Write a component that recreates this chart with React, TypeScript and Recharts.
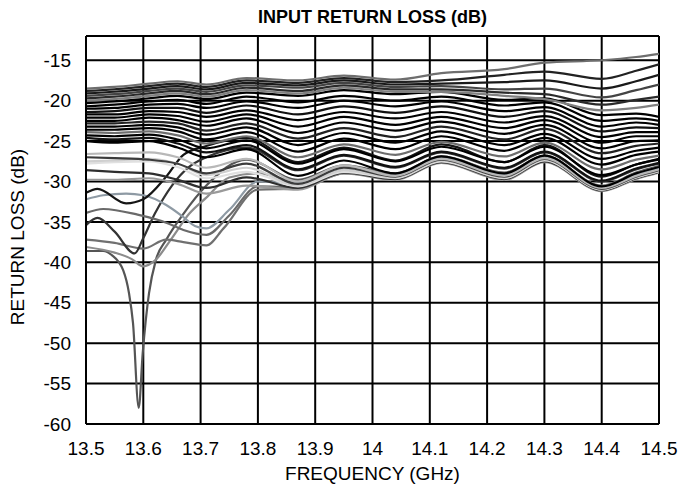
import React from "react";
import { LineChart, Line, XAxis, YAxis, CartesianGrid, ReferenceLine } from "recharts";

// Frequency ticks (GHz) and return-loss ticks (dB)
const X_TICKS = [13.5, 13.6, 13.7, 13.8, 13.9, 14, 14.1, 14.2, 14.3, 14.4, 14.5];
const Y_TICKS = [-60, -55, -50, -45, -40, -35, -30, -25, -20, -15];

// Common frequency grid of the dense band of curves
const FREQ = [13.5, 13.55, 13.61, 13.66, 13.71, 13.78, 13.87, 13.95, 14.04, 14.12, 14.23, 14.3, 14.4, 14.46, 14.5];

// Upper curves that fan out above the band toward 14.5 GHz
const fan1 = [-18.5, -18.3, -17.9, -17.6, -18.0, -17.2, -17.5, -16.9, -17.4, -16.6, -16.1, -15.3, -15.0, -14.6, -14.2];
const fan2 = [-18.8, -18.6, -18.2, -17.9, -18.3, -17.5, -17.8, -17.2, -17.7, -17.5, -16.8, -16.4, -17.3, -16.3, -15.5];
const fan3 = [-19.1, -18.9, -18.5, -18.2, -18.6, -17.8, -18.1, -17.5, -18.0, -17.9, -17.7, -17.5, -18.5, -17.6, -16.8];
const fan4 = [-19.4, -19.2, -18.8, -18.5, -18.9, -18.1, -18.4, -17.8, -18.3, -18.2, -18.6, -18.5, -19.6, -18.7, -18.0];
const fan5 = [-19.7, -19.5, -19.1, -18.8, -19.2, -18.4, -18.8, -18.1, -18.6, -18.6, -19.0, -19.2, -20.5, -19.9, -19.5];
const fan6 = [-20.0, -19.8, -19.4, -19.1, -19.5, -18.7, -19.1, -18.4, -18.9, -18.9, -19.4, -19.8, -21.2, -20.9, -20.5];

// Dense black band
const b0 = [-20.3, -20.1, -19.7, -19.4, -19.8, -19.0, -19.4, -18.7, -19.2, -18.9, -19.9, -19.7, -21.8, -21.6, -22.0];
const b1 = [-20.7, -20.5, -20.1, -19.9, -20.4, -19.5, -20.2, -19.4, -20.0, -19.5, -20.6, -20.2, -22.5, -22.2, -22.5];
const b2 = [-21.0, -20.9, -20.5, -20.4, -20.9, -20.1, -20.9, -20.0, -20.7, -20.1, -21.3, -20.8, -23.2, -22.7, -23.0];
const b3 = [-21.4, -21.3, -20.9, -20.9, -21.5, -20.6, -21.7, -20.7, -21.5, -20.7, -22.0, -21.3, -23.8, -23.3, -23.4];
const b4 = [-21.7, -21.7, -21.3, -21.4, -22.0, -21.2, -22.4, -21.4, -22.2, -21.4, -22.7, -21.9, -24.5, -23.9, -23.9];
const b5 = [-22.1, -22.1, -21.7, -21.9, -22.6, -21.7, -23.2, -22.0, -23.0, -22.0, -23.4, -22.4, -25.2, -24.4, -24.4];
const b6 = [-22.5, -22.5, -22.1, -22.4, -23.1, -22.2, -24.0, -22.7, -23.7, -22.6, -24.1, -23.0, -25.9, -25.0, -24.9];
const b7 = [-22.8, -22.8, -22.6, -22.8, -23.7, -22.8, -24.7, -23.4, -24.5, -23.2, -24.8, -23.5, -26.5, -25.6, -25.3];
const b8 = [-23.2, -23.2, -23.0, -23.3, -24.2, -23.3, -25.5, -24.0, -25.2, -23.8, -25.5, -24.1, -27.2, -26.2, -25.8];
const b9 = [-23.6, -23.6, -23.4, -23.8, -24.8, -23.9, -26.3, -24.7, -26.0, -24.4, -26.2, -24.6, -27.9, -26.7, -26.3];
const b10 = [-23.9, -24.0, -23.8, -24.3, -25.3, -24.4, -27.0, -25.4, -26.7, -25.1, -26.9, -25.2, -28.5, -27.3, -26.8];
const b11 = [-24.3, -24.4, -24.2, -24.8, -25.9, -24.9, -27.8, -26.0, -27.5, -25.7, -27.6, -25.7, -29.2, -27.9, -27.2];
const b12 = [-24.6, -24.8, -24.6, -25.3, -26.4, -25.5, -28.5, -26.7, -28.2, -26.3, -28.3, -26.3, -29.9, -28.4, -27.7];
const b13 = [-25.0, -25.2, -25.0, -25.8, -27.0, -26.0, -29.3, -27.4, -29.0, -26.9, -29.0, -26.8, -30.6, -29.0, -28.2];

// Gray curves just below the band on the left
const g1 = [-26.6, -26.5, -26.4, -27.0, -28.3, -27.2, -30.0, -28.0, -29.3, -27.2, -29.3, -27.1, -30.8, -29.3, -28.5];
const g2 = [-27.0, -27.1, -27.3, -27.8, -29.0, -27.8, -30.3, -28.3, -29.4, -27.3, -29.4, -27.2, -30.9, -29.4, -28.6];
const g3 = [-27.5, -27.4, -27.2, -27.8, -29.2, -28.3, -30.5, -28.6, -29.5, -27.4, -29.5, -27.3, -31.0, -29.5, -28.7];
const g4 = [-27.8, -27.6, -27.5, -28.2, -29.6, -28.8, -30.6, -28.8, -29.6, -27.5, -29.6, -27.4, -31.0, -29.5, -28.7];
const g5 = [-28.6, -28.8, -29.0, -29.8, -30.8, -29.5, -30.8, -28.9, -29.7, -27.6, -29.7, -27.5, -31.1, -29.6, -28.8];
const g6 = [-29.8, -29.8, -29.6, -30.3, -31.5, -30.5, -31.0, -29.0, -29.8, -27.7, -29.8, -27.6, -31.2, -29.7, -28.9];

// Lower curves with their own frequency points
const fF = [13.5, 13.52, 13.57, 13.6, 13.64, 13.67, 13.71, 13.78, 13.87, 13.95, 14.04, 14.12, 14.23, 14.3, 14.4, 14.46, 14.5];
const vF = [-31.4, -30.9, -32.7, -32.2, -29.4, -26.7, -25.6, -24.6, -27.6, -25.8, -27.4, -25.4, -27.6, -25.5, -29.4, -27.9, -27.3];
const fE = [13.5, 13.53, 13.57, 13.6, 13.64, 13.67, 13.69, 13.71, 13.75, 13.8, 13.87, 13.95, 14.04, 14.12, 14.23, 14.3, 14.4, 14.46, 14.5];
const vE = [-32.2, -31.7, -31.5, -31.7, -32.9, -34.4, -35.5, -35.8, -33.5, -30.0, -30.2, -28.6, -29.3, -27.1, -29.2, -27.0, -30.7, -29.1, -28.4];
const fD = [13.5, 13.53, 13.59, 13.64, 13.67, 13.71, 13.75, 13.8, 13.87, 13.95, 14.04, 14.12, 14.23, 14.3, 14.4, 14.46, 14.5];
const vD = [-33.9, -33.4, -34.1, -35.1, -36.0, -36.6, -34.2, -30.6, -30.7, -28.8, -29.2, -27.0, -29.1, -26.9, -30.6, -29.0, -28.3];
const fC = [13.5, 13.52, 13.55, 13.585, 13.6, 13.62, 13.65, 13.68, 13.71, 13.78, 13.87, 13.95, 14.04, 14.12, 14.23, 14.3, 14.4, 14.46, 14.5];
const vC = [-35.4, -34.5, -36.2, -38.9, -37.0, -34.0, -30.5, -28.2, -27.0, -25.8, -28.6, -26.8, -28.3, -26.4, -28.4, -26.4, -30.0, -28.5, -27.8];
const fG = [13.5, 13.55, 13.6, 13.64, 13.67, 13.71, 13.74, 13.8, 13.87, 13.95, 14.04, 14.12, 14.23, 14.3, 14.4, 14.46, 14.5];
const vG = [-37.2, -37.6, -38.3, -37.2, -37.5, -37.9, -35.8, -31.0, -30.9, -29.0, -29.6, -27.4, -29.5, -27.3, -31.0, -29.4, -28.6];
const fB = [13.5, 13.55, 13.58, 13.6, 13.62, 13.65, 13.68, 13.71, 13.75, 13.8, 13.87, 13.95, 14.04, 14.12, 14.23, 14.3, 14.4, 14.46, 14.5];
const vB = [-38.1, -38.8, -39.6, -40.5, -39.8, -37.0, -34.0, -32.0, -29.5, -29.0, -30.0, -28.2, -29.1, -27.0, -29.0, -26.9, -30.5, -29.0, -28.2];
const fA = [13.5, 13.53, 13.545, 13.565, 13.575, 13.582, 13.592, 13.599, 13.61, 13.622, 13.64, 13.67, 13.71, 13.78, 13.87, 13.95, 14.04, 14.12, 14.23, 14.3, 14.4, 14.46, 14.5];
const vA = [-38.6, -38.6, -39.1, -41.0, -43.8, -47.5, -58.0, -51.2, -43.8, -39.7, -37.2, -34.0, -30.5, -27.3, -29.8, -28.0, -29.0, -26.9, -28.9, -26.8, -30.6, -28.9, -28.1];

type S = { xs: number[]; ys: number[]; color: string };

const SERIES: S[] = [
  { xs: fA, ys: vA, color: "#555555" },
  { xs: fB, ys: vB, color: "#8c8c8c" },
  { xs: fG, ys: vG, color: "#707070" },
  { xs: fC, ys: vC, color: "#333333" },
  { xs: fD, ys: vD, color: "#6a6a6a" },
  { xs: fE, ys: vE, color: "#8e9aa4" },
  { xs: fF, ys: vF, color: "#151515" },
  { xs: FREQ, ys: g6, color: "#9a9a9a" },
  { xs: FREQ, ys: g5, color: "#2e2e2e" },
  { xs: FREQ, ys: g4, color: "#e0e0e0" },
  { xs: FREQ, ys: g3, color: "#cfcfcf" },
  { xs: FREQ, ys: g2, color: "#3c3c3c" },
  { xs: FREQ, ys: g1, color: "#b8b8b8" },
  { xs: FREQ, ys: b13, color: "#000000" },
  { xs: FREQ, ys: b12, color: "#111111" },
  { xs: FREQ, ys: b11, color: "#000000" },
  { xs: FREQ, ys: b10, color: "#6e6e6e" },
  { xs: FREQ, ys: b9, color: "#000000" },
  { xs: FREQ, ys: b8, color: "#000000" },
  { xs: FREQ, ys: b7, color: "#222222" },
  { xs: FREQ, ys: b6, color: "#000000" },
  { xs: FREQ, ys: b5, color: "#000000" },
  { xs: FREQ, ys: b4, color: "#000000" },
  { xs: FREQ, ys: b3, color: "#111111" },
  { xs: FREQ, ys: b2, color: "#000000" },
  { xs: FREQ, ys: b1, color: "#000000" },
  { xs: FREQ, ys: b0, color: "#000000" },
  { xs: FREQ, ys: fan6, color: "#808080" },
  { xs: FREQ, ys: fan5, color: "#2a2a2a" },
  { xs: FREQ, ys: fan4, color: "#444444" },
  { xs: FREQ, ys: fan3, color: "#1a1a1a" },
  { xs: FREQ, ys: fan2, color: "#222222" },
  { xs: FREQ, ys: fan1, color: "#6e6e6e" },
];

const FONT = "'Liberation Sans', Arial, Helvetica, sans-serif";

export default function App() {
  return (
    <div style={{ position: "absolute", left: 0, top: 0, width: 679, height: 489, background: "#fff", fontFamily: FONT }}>
      <LineChart width={679} height={489} margin={{ top: 36, right: 20, bottom: 35, left: 30 }}>
        <CartesianGrid stroke="#000" strokeWidth={2} />
        <XAxis
          dataKey="f"
          type="number"
          domain={[13.5, 14.5]}
          ticks={X_TICKS}
          allowDataOverflow
          height={30}
          tickLine={false}
          tickSize={0}
          tickMargin={18}
          axisLine={{ stroke: "#000", strokeWidth: 2 }}
          tick={{ fill: "#000", fontSize: 19, fontFamily: FONT }}
        />
        <YAxis
          type="number"
          domain={[-60, -12]}
          ticks={Y_TICKS}
          allowDataOverflow
          width={56}
          tickLine={false}
          tickSize={0}
          tickMargin={15}
          axisLine={{ stroke: "#000", strokeWidth: 2 }}
          tick={{ fill: "#000", fontSize: 19, fontFamily: FONT }}
        />
        <ReferenceLine y={-12} stroke="#000" strokeWidth={2} />
        {SERIES.map((s, i) => (
          <Line
            key={i}
            data={s.xs.map((x, j) => ({ f: x, v: s.ys[j] }))}
            dataKey="v"
            type="monotone"
            stroke={s.color}
            strokeWidth={2.2}
            dot={false}
            activeDot={false}
            isAnimationActive={false}
          />
        ))}
      </LineChart>
      <div style={{ position: "absolute", left: 86, width: 573, top: 7, textAlign: "center", fontSize: 18, fontWeight: "bold", color: "#000" }}>
        INPUT RETURN LOSS (dB)
      </div>
      <div style={{ position: "absolute", left: 86, width: 573, top: 464, textAlign: "center", fontSize: 19, lineHeight: "20px", color: "#000" }}>
        FREQUENCY (GHz)
      </div>
      <div
        style={{
          position: "absolute",
          left: 18,
          top: 237,
          transform: "translate(-50%, -50%) rotate(-90deg)",
          whiteSpace: "nowrap",
          fontSize: 19,
          color: "#000",
        }}
      >
        RETURN LOSS (dB)
      </div>
    </div>
  );
}
